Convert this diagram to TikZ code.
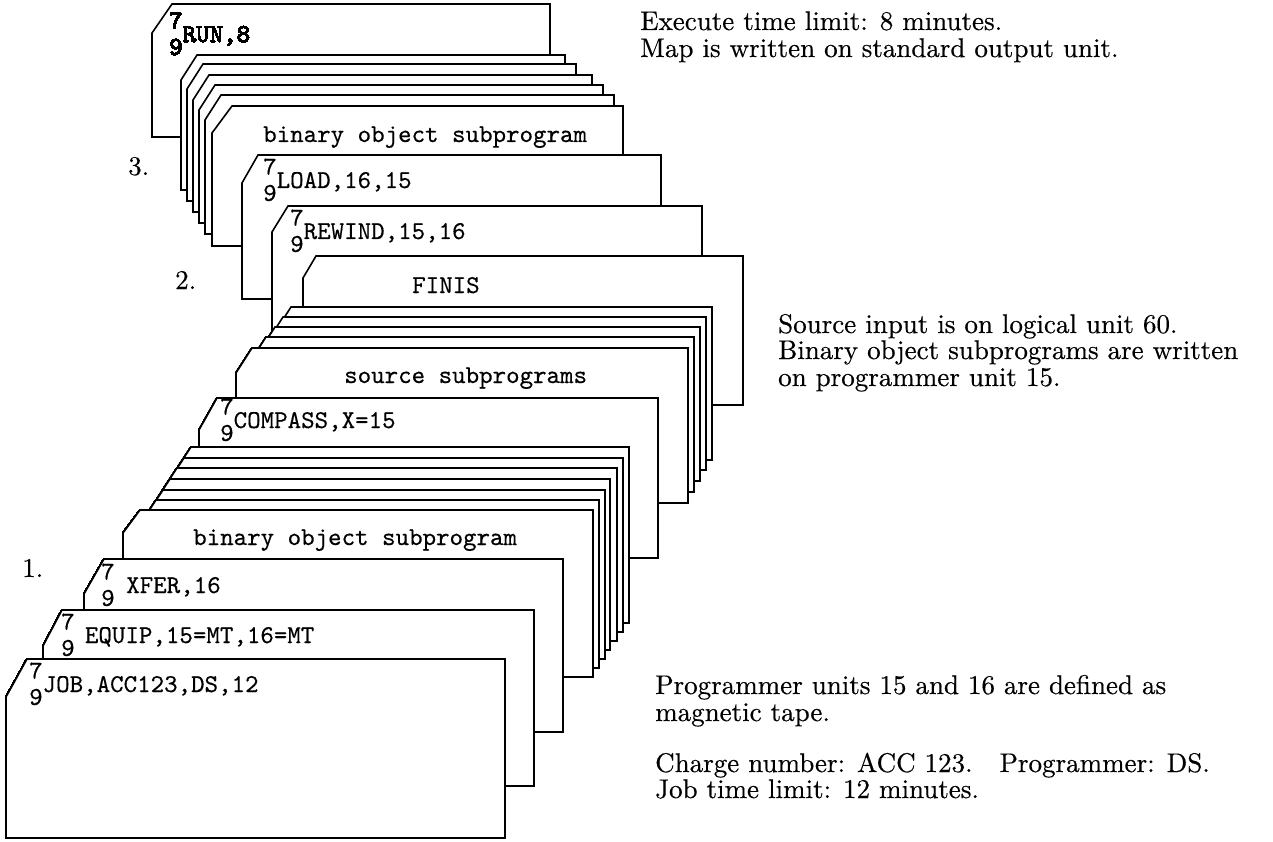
\documentclass[tikz,border=0pt]{standalone}
\usepackage{fontspec}
\newfontfamily\cardfont{lmmono10-regular.otf}[FakeBold=0.4]
\newfontfamily\notefont{lmroman10-regular.otf}[FakeBold=0.4]
\usetikzlibrary{positioning}
% 7 over 9 punch mark
\newcommand{\punch}{\rlap{\raisebox{0.52em}{7}}\raisebox{-0.5em}{9}}
% card with clipped corner: left, top, right, bottom, cut width, cut height
\newcommand{\deckcard}[6]{\draw[card] (#1,#4) -- (#1,#2+#6) -- (#1+#5,#2) -- (#3,#2) -- (#3,#4) -- cycle;}

\begin{document}
\begin{tikzpicture}[
    x=1pt,y=-1pt,
    card/.style={draw=black,fill=white,line width=1.6pt,line join=miter},
    cardtext/.style={anchor=base west,inner sep=0pt,font=\fontsize{25.7}{30}\cardfont},
    note/.style={anchor=base west,inner sep=0pt,font=\fontsize{27}{27}\notefont}
  ]
  \fill[white] (0,0) rectangle (1273,842);
  \useasboundingbox (0,0) rectangle (1273,842);
  % Remarks
  \node[note] (exec) at (640,30) {Execute time limit: 8 minutes.};
  \node[note] (map) at (640,57) {Map is written on standard output unit.};
  \node[note] (srcin) at (778,333) {Source input is on logical unit 60.};
  \node[note] (binout) at (778,359) {Binary object subprograms are written};
  \node[note] (binunit) at (778,386) {on programmer unit 15.};
  \node[note] (units) at (655,694) {Programmer units 15 and 16 are defined as};
  \node[note] (tape) at (655,721) {magnetic tape.};
  \node[note] (charge) at (655,772) {Charge number: ACC 123.\hspace{1em}Programmer: DS.};
  \node[note] (joblim) at (655,798) {Job time limit: 12 minutes.};
  % Step numbers
  \node[note] (stepone) at (22,577) {1.};
  \node[note] (steptwo) at (175,289) {2.};
  \node[note] (stepthree) at (128,175) {3.};
  % Execution deck
  \deckcard{152}{4}{550}{137}{20}{29}
  \foreach \lx/\ty/\rx/\by in {181/55/565/190,187/64/576/201,193/75/592/212,199/85/603/223,205/95/614/234}
    \deckcard{\lx}{\ty}{\rx}{\by}{16}{25}
  \deckcard{212}{106}{623}{246}{20}{27}
  \deckcard{242}{155}{661}{299}{16}{28}
  % Rewind deck
  \deckcard{272}{206}{702}{345}{16}{26}
  \deckcard{303}{256}{743}{405}{13}{22}
  \foreach \lx/\ty/\rx/\by in {275/307/712/460,267/317/706/470,259/327/700/481,250/337/694/492}
    \deckcard{\lx}{\ty}{\rx}{\by}{16}{25}
  \deckcard{236}{348}{688}{503}{16}{25}
  % Assembly deck
  \deckcard{199}{398}{658}{558}{18}{32}
  \foreach \lx/\ty/\rx/\by in {176/447/629/623,169/458/623/632,162/468/617/641,155/479/610/650,148/490/605/659,141/500/599/668}
    \deckcard{\lx}{\ty}{\rx}{\by}{15}{23}
  \deckcard{123}{510}{593}{677}{17}{23}
  \deckcard{84}{559}{563}{732}{20}{35}
  \deckcard{43}{610}{534}{786}{19}{36}
  \deckcard{6}{659}{505}{838}{21}{38}
  % Card texts
  \node[cardtext] (run) at (169,42) {\punch RUN,8};
  \node[cardtext] (bintop) at (263,142) {binary object subprogram};
  \node[cardtext] (load) at (263,188) {\punch LOAD,16,15};
  \node[cardtext] (rewind) at (290,239) {\punch REWIND,15,16};
  \node[cardtext] (finis) at (412,293) {FINIS};
  \node[cardtext] (source) at (344,383) {source subprograms};
  \node[cardtext] (compass) at (220,428) {\punch COMPASS,X=15};
  \node[cardtext] (binlow) at (193,545) {binary object subprogram};
  \node[cardtext] (xfer) at (101,593) {\punch\hspace{0.45em}XFER,16};
  \node[cardtext] (equip) at (61,643) {\punch\hspace{0.4em}EQUIP,15=MT,16=MT};
  \node[cardtext] (job) at (29,692) {\punch JOB,ACC123,DS,12};
\end{tikzpicture}
\end{document}
